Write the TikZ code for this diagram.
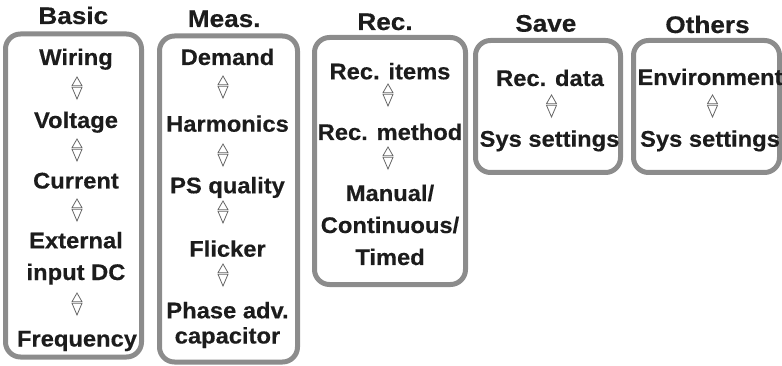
\documentclass[tikz,border=0pt]{standalone}
\usepackage{fontspec}
\setmainfont{Liberation Sans}
\newfontfamily\itemfont[FakeStretch=1.05, BoldFeatures={FakeBold=0.4}]{Liberation Sans}
\newfontfamily\titlefont[FakeStretch=1.09, BoldFeatures={FakeBold=0.4}]{Liberation Sans}
\definecolor{boxgray}{HTML}{8C8C8C}
\definecolor{txt}{HTML}{1C1C1C}
\definecolor{arrgray}{HTML}{666666}
\begin{document}
\begin{tikzpicture}[x=1pt,y=-1pt,
  box/.style={draw=boxgray, line width=5pt, rounded corners=15pt, inner sep=0pt, outer sep=0pt, rectangle},
  ttl/.style={font=\titlefont\bfseries\fontsize{24}{28}\selectfont, text=txt, anchor=base, inner sep=0pt},
  itm/.style={font=\itemfont\bfseries\fontsize{22.6}{26}\selectfont, text=txt, anchor=base, inner sep=0pt},
  arrowline/.style={draw=arrgray, line width=0.8pt, line join=miter},
  updown/.pic={
    \draw[arrowline] (-5,-2.3) -- (0,-11) -- (5,-2.3) -- cycle;
    \draw[arrowline] (-5,-0.7) -- (0,11) -- (5,-0.7) -- cycle;
  }
]
\useasboundingbox (0,0) rectangle (782,366);

% boxes
\node[box, minimum width=136pt, minimum height=323pt] (basicbox) at (73.5,195.5) {};
\node[box, minimum width=138pt, minimum height=326pt] (measbox) at (228.5,199) {};
\node[box, minimum width=151pt, minimum height=247pt] (recbox) at (390,161) {};
\node[box, minimum width=145pt, minimum height=132pt] (savebox) at (548,106.5) {};
\node[box, minimum width=146pt, minimum height=132pt] (othbox) at (706.5,106.5) {};

% titles
\node[ttl] (tbasic) at (73.3,24) {Basic};
\node[ttl] (tmeas) at (224.2,27) {Meas.};
\node[ttl] (trec) at (385,30) {Rec.};
\node[ttl] (tsave) at (545.8,31.7) {Save};
\node[ttl] (toth) at (707.5,33) {Others};

% Basic
\node[itm] (wiring) at (76,65) {Wiring};
\pic at (77,88) {updown};
\node[itm] (voltage) at (76,128) {Voltage};
\pic at (77,150) {updown};
\node[itm] (current) at (76,188.5) {Current};
\pic at (77,210) {updown};
\node[itm] (ext1) at (76,248.3) {External};
\node[itm] (ext2) at (76,280) {input DC};
\pic at (77,304) {updown};
\node[itm] (freq) at (77,346.5) {Frequency};

% Meas.
\node[itm] (demand) at (227.5,65) {Demand};
\pic at (223,87) {updown};
\node[itm] (harm) at (227.5,131.7) {Harmonics};
\pic at (223,155) {updown};
\node[itm] (psq) at (227.5,193.3) {PS quality};
\pic at (223,212) {updown};
\node[itm] (flick) at (227.5,256.7) {Flicker};
\pic at (223,275) {updown};
\node[itm] (phase) at (227.5,318.3) {Phase adv.};
\node[itm] (capac) at (227.5,343.5) {capacitor};

% Rec.
\node[itm] (recitems) at (390,79.3) {Rec. items};
\pic at (388,95) {updown};
\node[itm] (recmeth) at (390,140) {Rec. method};
\pic at (388,158) {updown};
\node[itm] (manual) at (390,201) {Manual/};
\node[itm] (contin) at (390,233) {Continuous/};
\node[itm] (timed) at (390,265) {Timed};

% Save
\node[itm] (recdata) at (550,86) {Rec. data};
\pic at (551.5,106) {updown};
\node[itm] (syss1) at (549.5,146.7) {Sys settings};

% Others
\node[itm] (envir) at (710,85) {Environment};
\pic at (712.5,106) {updown};
\node[itm] (syss2) at (710,146.7) {Sys settings};
\end{tikzpicture}
\end{document}
